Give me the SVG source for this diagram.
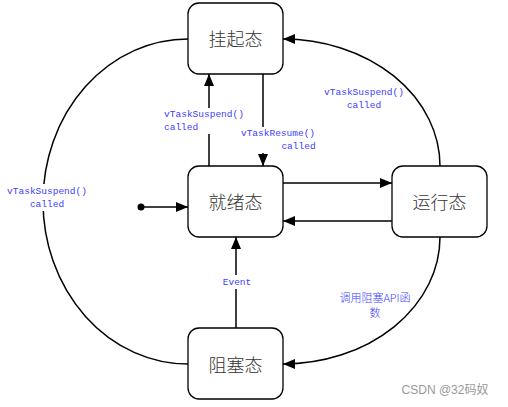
<svg xmlns="http://www.w3.org/2000/svg" width="508" height="407" viewBox="0 0 508 407">
<style>
.box{fill:#fff;stroke:#000;stroke-width:1.3}
.st{font-family:"Noto Sans CJK SC","Liberation Sans",sans-serif;font-size:18px;font-weight:300;fill:#333;text-anchor:middle;dominant-baseline:central}
.ln{fill:none;stroke:#000;stroke-width:1.5}
.lb{font-family:"Liberation Mono","Noto Sans CJK SC",monospace;font-size:9.5px;fill:#4040ff;text-anchor:middle;dominant-baseline:central}
.cn{font-family:"Noto Sans CJK SC",sans-serif;font-size:11px;font-weight:300;fill:#4040ff;text-anchor:middle;dominant-baseline:central}
.bg{fill:#fff}
</style>
<defs>
<marker id="ah" markerUnits="userSpaceOnUse" markerWidth="13" markerHeight="11" refX="12" refY="5" orient="auto" viewBox="0 0 13 11">
<path d="M0,0 L12,5 L0,10 z" fill="#000"/>
</marker>
</defs>
<g id="connectors">
<circle cx="141" cy="207" r="3.5" fill="#000"/>
<line class="ln" x1="141" y1="207" x2="188" y2="207" marker-end="url(#ah)"/>
<line class="ln" x1="283" y1="183" x2="392" y2="183" marker-end="url(#ah)"/>
<line class="ln" x1="392" y1="221" x2="283" y2="221" marker-end="url(#ah)"/>
<line class="ln" x1="209" y1="166" x2="209" y2="74" marker-end="url(#ah)"/>
<line class="ln" x1="263" y1="74" x2="263" y2="166" marker-end="url(#ah)"/>
<line class="ln" x1="236" y1="328" x2="236" y2="237" marker-end="url(#ah)"/>
<path class="ln" d="M440,166 A157,127 0 0 0 283,39" marker-end="url(#ah)"/>
<path class="ln" d="M440,237 A157,127 0 0 1 283,364" marker-end="url(#ah)"/>
<path class="ln" d="M188,39 A145,162.5 0 0 0 188,364"/>
<rect class="bg" x="163" y="108" width="82" height="26"/>
<text class="lb" x="204" y="114">vTaskSuspend()</text>
<text x="164" y="127.5" class="lb" style="text-anchor:start">called</text>
<rect class="bg" x="241" y="127" width="76" height="26"/>
<text class="lb" x="278" y="133">vTaskResume()</text>
<text class="lb" x="298.5" y="146">called</text>
<rect class="bg" x="6" y="184" width="82" height="27"/>
<text class="lb" x="47" y="191">vTaskSuspend()</text>
<text class="lb" x="47" y="204">called</text>
<text class="lb" x="364" y="92">vTaskSuspend()</text>
<text class="lb" x="364" y="105">called</text>
<text class="cn" x="375" y="297">调用阻塞API函</text>
<text class="cn" x="375" y="312">数</text>
<rect class="bg" x="221" y="275" width="32" height="14"/>
<text class="lb" x="237" y="282">Event</text>
</g>
<g id="suspended">
<rect class="box" x="188" y="3" width="95" height="71" rx="11"/>
<text class="st" x="235.5" y="38">挂起态</text>
</g>
<g id="ready">
<rect class="box" x="188" y="166" width="95" height="71" rx="11"/>
<text class="st" x="235.5" y="201">就绪态</text>
</g>
<g id="running">
<rect class="box" x="392" y="166" width="95" height="71" rx="11"/>
<text class="st" x="439.5" y="201">运行态</text>
</g>
<g id="blocked">
<rect class="box" x="188" y="328" width="95" height="71" rx="11"/>
<text class="st" x="235.5" y="364">阻塞态</text>
</g>
<text x="445" y="390" style="font-family:'Liberation Sans','Noto Sans CJK SC',sans-serif;font-size:12px;fill:#999;text-anchor:middle;dominant-baseline:central">CSDN @32码奴</text>
</svg>
